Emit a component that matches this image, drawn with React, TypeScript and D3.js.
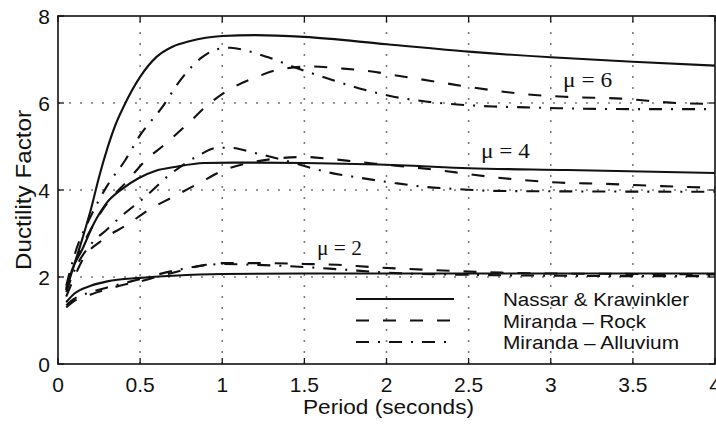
import React from 'react';
import * as d3 from 'd3';

type P = [number, number];

const xTicks = [0, 0.5, 1, 1.5, 2, 2.5, 3, 3.5, 4];
const xTickLabels = ['0', '0.5', '1', '1.5', '2', '2.5', '3', '3.5', '4'];
const yTicks = [0, 2, 4, 6, 8];
const yTickLabels = ['0', '2', '4', '6', '8'];

// Nassar & Krawinkler (solid)
const nassarMu6: P[] = [
  [0.05, 1.7], [0.1, 2.3], [0.15, 2.9], [0.2, 3.55], [0.25, 4.3], [0.3, 4.95], [0.35, 5.5], [0.4, 5.92],
  [0.5, 6.6], [0.6, 7.06], [0.7, 7.3], [0.8, 7.42], [0.9, 7.5], [1.0, 7.54], [1.2, 7.56], [1.5, 7.52],
  [2.0, 7.35], [2.5, 7.18], [3.0, 7.05], [3.5, 6.95], [4.0, 6.86],
];
const nassarMu4: P[] = [
  [0.05, 1.7], [0.085, 2.16], [0.146, 2.62], [0.22, 3.24], [0.3, 3.72], [0.4, 4.05], [0.49, 4.27],
  [0.6, 4.45], [0.71, 4.53], [0.89, 4.62], [1.07, 4.63], [1.2, 4.63], [1.5, 4.62], [2.08, 4.57],
  [2.5, 4.5], [3.1, 4.46], [4.0, 4.39],
];
const nassarMu2: P[] = [
  [0.05, 1.42], [0.1, 1.62], [0.2, 1.8], [0.3, 1.9], [0.5, 1.98], [0.7, 2.03], [1.0, 2.07],
  [1.5, 2.08], [2.0, 2.08], [3.0, 2.08], [4.0, 2.08],
];

// Miranda – Rock (dashed)
const rockMu6: P[] = [
  [0.05, 1.75], [0.1, 2.3], [0.2, 3.1], [0.3, 3.7], [0.42, 4.2], [0.53, 4.67], [0.66, 5.08], [0.8, 5.56],
  [0.91, 5.95], [1.03, 6.28], [1.21, 6.6], [1.36, 6.78], [1.55, 6.84], [1.7, 6.8], [1.88, 6.74],
  [2.05, 6.64], [2.2, 6.55], [2.35, 6.46], [2.5, 6.37], [2.67, 6.28], [2.85, 6.2], [3.1, 6.14],
  [3.43, 6.1], [3.77, 6.0], [4.0, 5.98],
];
const rockMu4: P[] = [
  [0.05, 1.55], [0.1, 2.0], [0.15, 2.4], [0.27, 2.85], [0.42, 3.2], [0.56, 3.56], [0.7, 3.84],
  [0.86, 4.16], [1.0, 4.44], [1.2, 4.65], [1.35, 4.73], [1.5, 4.76], [1.67, 4.71], [1.84, 4.64],
  [2.0, 4.58], [2.33, 4.45], [2.49, 4.37], [2.66, 4.29], [2.83, 4.23], [3.0, 4.18], [3.34, 4.14],
  [3.67, 4.09], [4.0, 4.05],
];
const rockMu2: P[] = [
  [0.05, 1.3], [0.1, 1.45], [0.2, 1.6], [0.3, 1.72], [0.4, 1.82], [0.5, 1.9], [0.6, 2.0], [0.75, 2.15],
  [0.9, 2.28], [1.0, 2.32], [1.2, 2.32], [1.5, 2.3], [1.7, 2.28], [1.9, 2.23], [2.1, 2.19],
  [2.4, 2.14], [2.7, 2.1], [3.0, 2.08], [3.5, 2.07], [4.0, 2.06],
];

// Miranda – Alluvium (dash-dot)
const alluviumMu6: P[] = [
  [0.05, 1.8], [0.1, 2.5], [0.2, 3.4], [0.3, 4.1], [0.41, 4.69], [0.5, 5.26], [0.63, 5.88], [0.75, 6.55],
  [0.88, 7.06], [1.0, 7.26], [1.05, 7.27], [1.15, 7.2], [1.28, 7.05], [1.47, 6.78], [1.67, 6.53],
  [1.83, 6.34], [2.05, 6.14], [2.25, 6.03], [2.45, 5.96], [2.65, 5.92], [2.85, 5.9], [3.05, 5.88],
  [3.5, 5.86], [4.0, 5.86],
];
const alluviumMu4: P[] = [
  [0.05, 1.65], [0.1, 2.15], [0.2, 2.75], [0.3, 3.1], [0.38, 3.38], [0.53, 3.84], [0.67, 4.32],
  [0.85, 4.78], [0.97, 4.97], [1.05, 4.97], [1.2, 4.85], [1.4, 4.66], [1.64, 4.41], [1.84, 4.28],
  [2.05, 4.16], [2.24, 4.07], [2.44, 4.02], [2.64, 3.98], [3.0, 3.97], [4.0, 3.96],
];
const alluviumMu2: P[] = [
  [0.05, 1.35], [0.1, 1.5], [0.2, 1.65], [0.3, 1.76], [0.4, 1.86], [0.5, 1.95], [0.6, 2.05],
  [0.75, 2.18], [0.9, 2.27], [1.0, 2.3], [1.2, 2.28], [1.4, 2.25], [1.7, 2.18], [2.0, 2.1],
  [2.5, 2.05], [3.0, 2.03], [3.5, 2.02], [4.0, 2.02],
];

const legendLabels = ['Nassar & Krawinkler', 'Miranda \u2013 Rock', 'Miranda \u2013 Alluvium'];
const muLabels = ['\u03bc = 6', '\u03bc = 4', '\u03bc = 2'];

const W = 716;
const H = 426;
const left = 58;
const right = 715;
const top = 16;
const bottom = 364;

const STYLES = [
  { dash: undefined as string | undefined },
  { dash: '13 14' },
  { dash: '13 9 2 9' },
];

export default function App() {
  const x = d3.scaleLinear().domain([0, 4]).range([left, right]);
  const y = d3.scaleLinear().domain([0, 8]).range([bottom, top]);
  const line = d3
    .line<P>()
    .x((d) => x(d[0]))
    .y((d) => y(d[1]))
    .curve(d3.curveMonotoneX);

  const series: { data: P[]; style: number }[] = [
    { data: nassarMu6, style: 0 },
    { data: nassarMu4, style: 0 },
    { data: nassarMu2, style: 0 },
    { data: rockMu6, style: 1 },
    { data: rockMu4, style: 1 },
    { data: rockMu2, style: 1 },
    { data: alluviumMu6, style: 2 },
    { data: alluviumMu4, style: 2 },
    { data: alluviumMu2, style: 2 },
  ];

  const muPos: P[] = [
    [3.075, 6.37],
    [2.575, 4.74],
    [1.577, 2.51],
  ];
  const muLen = [49, 49, 45];

  const sans = '"Liberation Sans", Arial, Helvetica, sans-serif';
  const serif = '"Liberation Serif", "Times New Roman", serif';
  const ink = '#111';

  const legendRows = [299, 320.5, 342];
  const legendTextLen = [186, 143, 176];

  return (
    <svg
      width={W}
      height={H}
      viewBox={`0 0 ${W} ${H}`}
      style={{ position: 'absolute', left: 0, top: 0, background: '#fff' }}
    >
      <rect x={0} y={0} width={W} height={H} fill="#fff" />
      {/* grid */}
      <g stroke="#777" strokeWidth={1.6} strokeDasharray="2 9" fill="none">
        {xTicks.slice(1, -1).map((t) => (
          <line key={'gx' + t} x1={x(t)} x2={x(t)} y1={bottom} y2={top} />
        ))}
        {yTicks.slice(1, -1).map((t) => (
          <line key={'gy' + t} x1={left} x2={right} y1={y(t)} y2={y(t)} />
        ))}
      </g>
      {/* ticks */}
      <g stroke={ink} strokeWidth={1.3}>
        {xTicks.map((t) => (
          <g key={'tx' + t}>
            <line x1={x(t)} x2={x(t)} y1={bottom} y2={bottom - 6} />
            <line x1={x(t)} x2={x(t)} y1={top} y2={top + 6} />
          </g>
        ))}
        {yTicks.map((t) => (
          <g key={'ty' + t}>
            <line x1={left} x2={left + 6} y1={y(t)} y2={y(t)} />
            <line x1={right} x2={right - 6} y1={y(t)} y2={y(t)} />
          </g>
        ))}
      </g>
      {/* curves */}
      <g fill="none" stroke={ink} strokeWidth={2.1}>
        {series.map((s, i) => (
          <path key={'s' + i} d={line(s.data) || ''} strokeDasharray={STYLES[s.style].dash} />
        ))}
      </g>
      {/* frame */}
      <rect
        x={left}
        y={top}
        width={right - left}
        height={bottom - top}
        fill="none"
        stroke={ink}
        strokeWidth={1.6}
      />
      {/* tick labels */}
      <g fontFamily={sans} fontSize={21} fill={ink}>
        {xTicks.map((t, i) => (
          <text key={'lx' + t} x={x(t)} y={392} textAnchor="middle">
            {xTickLabels[i]}
          </text>
        ))}
        {yTicks.map((t, i) => (
          <text key={'ly' + t} x={50} y={y(t) + 7.5} textAnchor="end">
            {yTickLabels[i]}
          </text>
        ))}
      </g>
      {/* axis labels */}
      <text
        x={388.5}
        y={414}
        textAnchor="middle"
        fontFamily={sans}
        fontSize={21}
        fill={ink}
        textLength={171}
        lengthAdjust="spacingAndGlyphs"
      >
        Period (seconds)
      </text>
      <text
        transform={`translate(31,190) rotate(-90)`}
        textAnchor="middle"
        fontFamily={sans}
        fontSize={22}
        fill={ink}
        textLength={160}
        lengthAdjust="spacingAndGlyphs"
      >
        Ductility Factor
      </text>
      {/* mu labels */}
      <g fontFamily={serif} fontSize={20} fill={ink}>
        {muLabels.map((m, i) => (
          <text
            key={'mu' + i}
            x={x(muPos[i][0])}
            y={y(muPos[i][1])}
            textLength={muLen[i]}
            lengthAdjust="spacingAndGlyphs"
          >
            {m}
          </text>
        ))}
      </g>
      {/* legend */}
      <g>
        {legendLabels.map((lab, i) => (
          <g key={'lg' + i}>
            <line
              x1={356}
              x2={454}
              y1={legendRows[i]}
              y2={legendRows[i]}
              stroke={ink}
              strokeWidth={2}
              strokeDasharray={STYLES[i].dash}
            />
            <text
              x={503}
              y={legendRows[i] + 7}
              fontFamily={sans}
              fontSize={19}
              fill={ink}
              textLength={legendTextLen[i]}
              lengthAdjust="spacingAndGlyphs"
            >
              {lab}
            </text>
          </g>
        ))}
      </g>
    </svg>
  );
}
